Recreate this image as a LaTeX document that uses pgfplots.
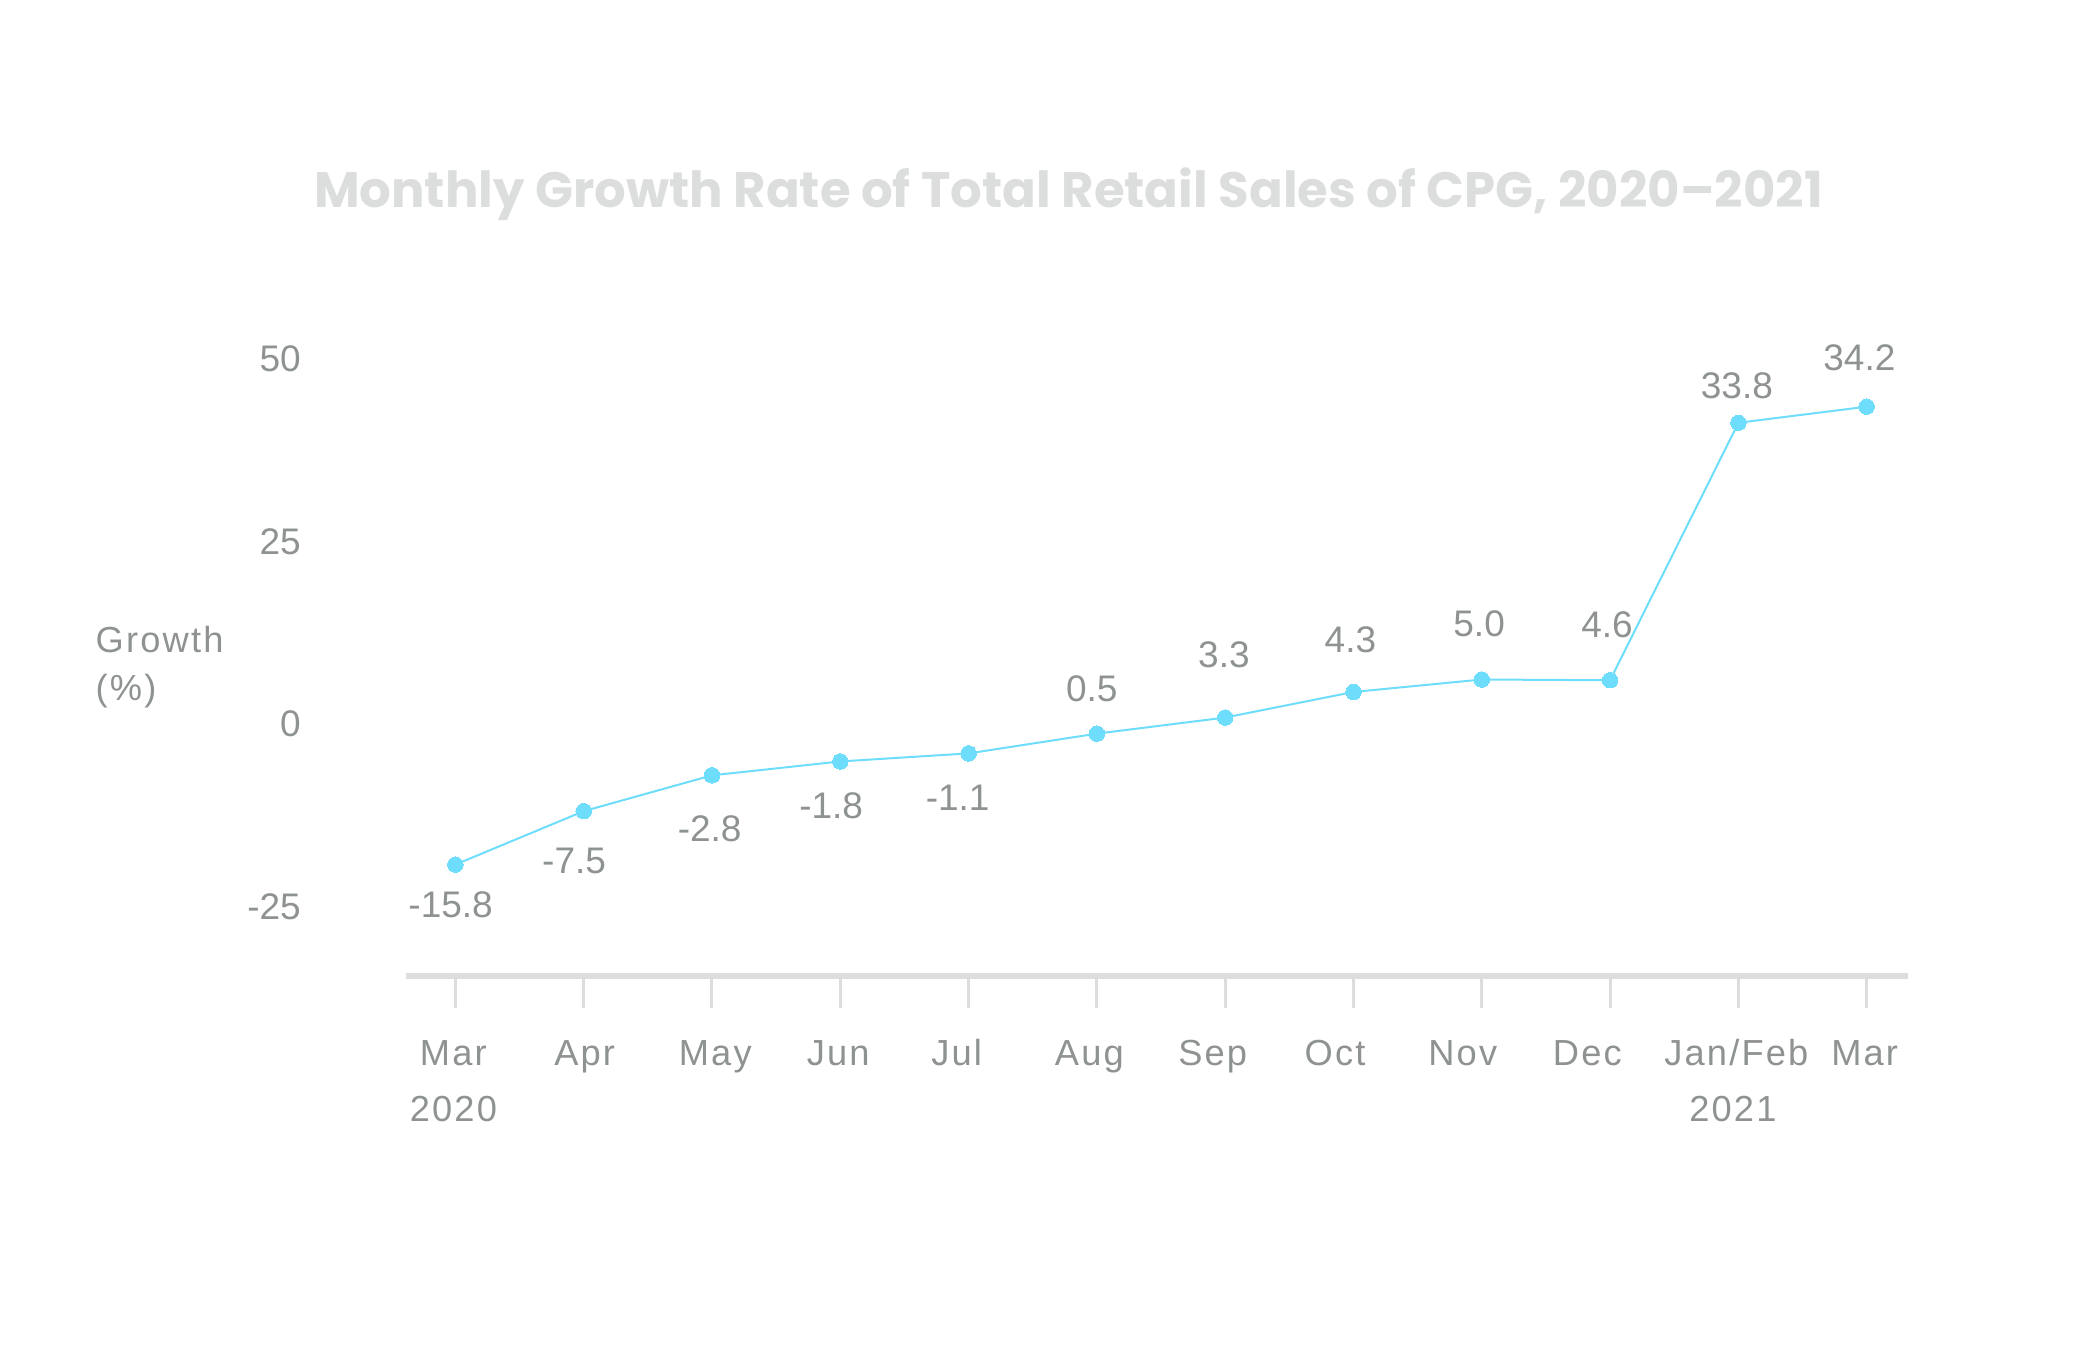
\documentclass[border=0pt]{standalone}
\usepackage{pgfplots}
\pgfplotsset{compat=1.18}
\usepackage{pgfplotstable}
\usepackage{fontspec}
\setmainfont{Liberation Sans}
\newfontfamily\widefont[LetterSpace=6]{Liberation Sans}
\newfontfamily\titlefont{Poppins}
\definecolor{linec}{HTML}{6EDDFB}
\definecolor{txt}{HTML}{8F9292}
\definecolor{axc}{HTML}{DCDEDE}
\definecolor{ttl}{HTML}{DCDDDD}
\pgfplotstableread{
x y
0 -19.2
1 -11.9
2 -7.0
3 -5.1
4 -4.0
5 -1.3
6 0.9
7 4.4
8 6.1
9 6.0
10 41.2
11 43.4
}\pts
\pgfplotstableread{
x y lab
-0.037 -24.7 -15.8
0.925 -18.7 -7.5
1.982 -14.3 -2.8
2.929 -11.2 -1.8
3.915 -10.1 -1.1
4.96 4.8 0.5
5.99 9.55 3.3
6.976 11.6 4.3
7.979 13.7 5.0
8.976 13.6 4.6
9.988 46.2 33.8
10.943 50.1 34.2
}\labs
\newcommand{\sh}[2]{\rule{0pt}{12pt}\hspace*{#1}#2}
\begin{document}
\begin{tikzpicture}
\useasboundingbox (-162.5pt,-148.9pt) rectangle (671.5pt,390.3pt);
\begin{axis}[
  at={(0pt,0pt)}, anchor=south west,
  scale only axis, width=600.6pt, height=252.8pt,
  xmin=-0.383, xmax=11.32, ymin=-34.4, ymax=52,
  axis lines*=left,
  y axis line style={draw=none},
  x axis line style={draw=axc, line width=2.4pt},
  xtick={0,...,11},
  xticklabels={{\sh{-1.6pt}{Mar}\\\sh{-1.6pt}{2020}},\sh{0.8pt}{Apr},\sh{2.6pt}{May},\sh{-1.6pt}{Jun},\sh{-9.6pt}{Jul},\sh{-6pt}{Aug},\sh{-10pt}{Sep},\sh{-14.8pt}{Oct},\sh{-15.2pt}{Nov},\sh{-18.2pt}{Dec},{\sh{-1.6pt}{Jan/Feb}\\\sh{-4.4pt}{2021}},\sh{-1.6pt}{Mar}},
  xticklabel style={align=center, anchor=north, inner sep=0pt, font=\widefont\fontsize{14.5}{22.4}\selectfont, text=txt, yshift=-10.9pt},
  ytick={-25,0,25,50}, yticklabels={-25,0,25,50},
  yticklabel style={anchor=east, inner sep=0pt, font=\fontsize{14.8}{17}\selectfont, text=txt, xshift=-29.2pt},
  ytick style={draw=none},
  xtick style={draw=axc, line width=1.2pt},
  tick align=outside, major tick length=12.8pt,
  clip=false,
  title={Monthly Growth Rate of Total Retail Sales of CPG, 2020–2021},
  title style={at={(axis description cs:0.441,1.2122)}, anchor=center, inner sep=0pt, font=\titlefont\bfseries\fontsize{19.9}{24}\selectfont, text=ttl},
  ylabel={Growth\\(\%)},
  ylabel style={rotate=-90, align=left, anchor=west, inner sep=0pt, at={(axis description cs:0,0.489)}, xshift=-124.4pt, font=\widefont\fontsize{14.5}{19.2}\selectfont, text=txt},
]
\addplot[linec, line width=0.8pt, mark=*, mark size=3.1pt, mark options={fill=linec, draw=linec, line width=0pt}] table[x=x, y=y] {\pts};
\addplot[draw=none, mark=none, nodes near coords, point meta=explicit symbolic,
  every node near coord/.style={anchor=center, inner sep=0pt, font=\fontsize{14.8}{17}\selectfont, text=txt}]
  table[x=x, y=y, meta=lab] {\labs};
\end{axis}
\end{tikzpicture}
\end{document}
